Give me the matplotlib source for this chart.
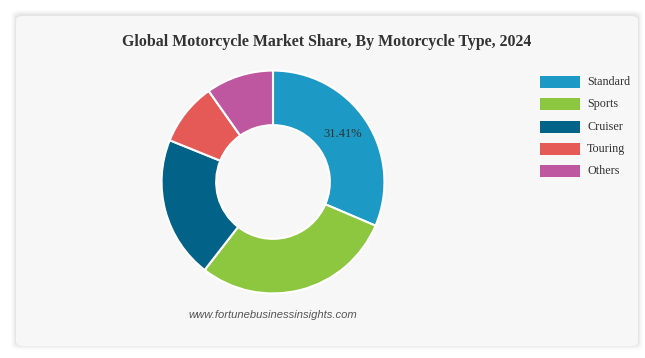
import matplotlib.pyplot as plt
from matplotlib.patches import FancyBboxPatch, Rectangle

types = ["Standard", "Sports", "Cruiser", "Touring", "Others"]
shares = [31.41, 29.1, 20.6, 9.1, 9.79]
colors = ["#1c9ac5", "#8dc63f", "#036287", "#e55957", "#bf57a0"]

W, H = 645, 358
fig = plt.figure(figsize=(W / 100, H / 100), dpi=100)
fig.patch.set_facecolor("white")

# card with soft shadow
for i, a in enumerate([0.012, 0.016, 0.02, 0.025, 0.03]):
    g = 5 - i
    fig.patches.append(FancyBboxPatch(
        ((16 - g) / W, (H - 346 - g + 1) / H), (622 + 2 * g) / W, (330 + 2 * g) / H,
        boxstyle="round,pad=0,rounding_size=0.012", transform=fig.transFigure,
        facecolor="black", alpha=a, edgecolor="none", zorder=0))
fig.patches.append(FancyBboxPatch(
    (16 / W, (H - 346) / H), 622 / W, 330 / H,
    boxstyle="round,pad=0,rounding_size=0.012", transform=fig.transFigure,
    facecolor="#f7f7f7", edgecolor="none", zorder=1))

# donut
cx, cy, r = 273, 182, 112
ax = fig.add_axes([(cx - r) / W, (H - cy - r) / H, 2 * r / W, 2 * r / H])
ax.set_zorder(2)
ax.pie(shares, colors=colors, startangle=90, counterclock=False, radius=1,
       wedgeprops=dict(width=0.49, edgecolor="white", linewidth=1.5))
ax.set_xlim(-1.005, 1.005)
ax.set_ylim(-1.005, 1.005)
ax.set_aspect("equal")
ax.axis("off")
fig.text(343 / W, 1 - 134 / H, "31.41%", ha="center", va="center",
         fontsize=9, family="Liberation Serif", color="#333333", zorder=3)

fig.text(327 / W, 1 - 42 / H,
         "Global Motorcycle Market Share, By Motorcycle Type, 2024",
         ha="center", va="center", fontsize=11.45, fontweight="bold",
         family="Liberation Serif", color="#333333", zorder=3)

# legend
for i, (t, c) in enumerate(zip(types, colors)):
    y = 82 + i * 22.3
    fig.patches.append(Rectangle((540 / W, 1 - (y + 6) / H), 40 / W, 12 / H,
                                 transform=fig.transFigure, facecolor=c,
                                 edgecolor="none", zorder=3))
    fig.text(587 / W, 1 - y / H, t, ha="left", va="center", fontsize=8.7,
             family="Liberation Serif", color="#333333", zorder=3)

fig.text(273 / W, 1 - 315 / H, "www.fortunebusinessinsights.com",
         ha="center", va="center", fontsize=8.1, style="italic",
         family="Liberation Sans", color="#555555", zorder=3)

fig.savefig("out.png", dpi=100, facecolor="white")
